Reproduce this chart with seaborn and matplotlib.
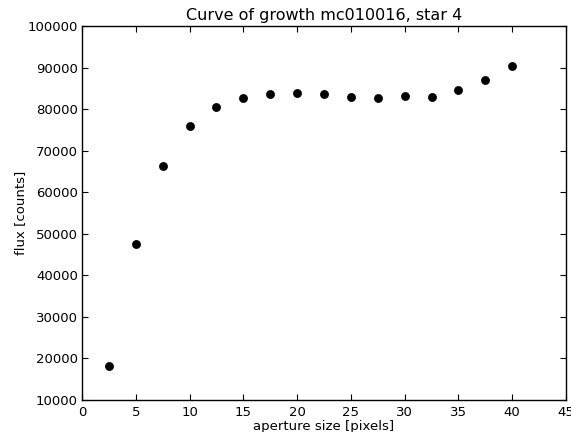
import matplotlib
matplotlib.use("Agg")
import matplotlib.pyplot as plt
import seaborn as sns
import pandas as pd

aperture = [2.5, 5, 7.5, 10, 12.5, 15, 17.5, 20, 22.5, 25, 27.5, 30, 32.5, 35, 37.5, 40]
flux = [18200, 47600, 66300, 75900, 80500, 82600, 83600, 83800, 83600, 82900,
        82600, 83200, 83000, 84600, 87100, 90300]

df = pd.DataFrame({"aperture": aperture, "flux": flux})

sns.set_style("ticks")
plt.rcParams.update({
    "font.family": ["DejaVu Sans"],
    "font.size": 9.5,
    "xtick.direction": "in",
    "ytick.direction": "in",
    "xtick.top": True,
    "ytick.right": True,
    "xtick.major.size": 4,
    "ytick.major.size": 4,
    "xtick.major.pad": 4,
    "ytick.major.pad": 3,
    "axes.linewidth": 1.0,
    "axes.edgecolor": "black",
    "xtick.color": "black",
    "ytick.color": "black",
    "text.color": "black",
    "axes.labelcolor": "black",
})

fig = plt.figure(figsize=(5.71, 4.32), dpi=100)
ax = fig.add_axes([82 / 571, 32 / 432, 484 / 571, 374 / 432])

sns.scatterplot(data=df, x="aperture", y="flux", ax=ax, color="black",
                s=34, edgecolor="black", linewidth=0.5)

ax.set_xlim(0, 45)
ax.set_ylim(10000, 100000)
ax.set_xticks(range(0, 46, 5))
ax.set_yticks(range(10000, 100001, 10000))
ax.tick_params(labelsize=9.5)
ax.set_xlabel("aperture size [pixels]", fontsize=9.5, labelpad=1)
ax.set_ylabel("flux [counts]", fontsize=9.5, labelpad=0)
ax.set_title("Curve of growth mc010016, star 4", fontsize=11.5, pad=4)

fig.savefig("out.png", dpi=100)
